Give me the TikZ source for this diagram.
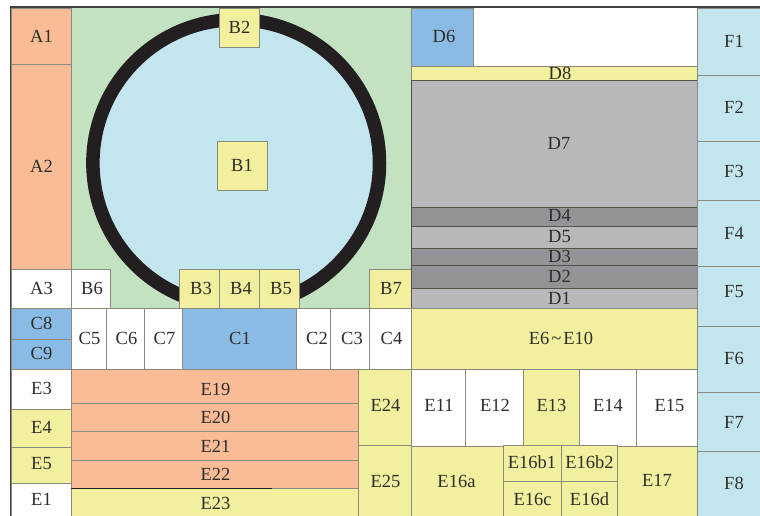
\documentclass[tikz,border=0pt]{standalone}
\usepackage{fontspec}
\setmainfont{Liberation Serif}
\definecolor{cOrange}{HTML}{F9BC96}
\definecolor{cGreen}{HTML}{C3E2C1}
\definecolor{cSky}{HTML}{C3E5EE}
\definecolor{cYellow}{HTML}{F2EF9E}
\definecolor{cBlue}{HTML}{8ABBE4}
\definecolor{cGray}{HTML}{B6B8BA}
\definecolor{cDark}{HTML}{929497}
\definecolor{cRing}{HTML}{231F20}
\definecolor{cLine}{HTML}{8A8B7C}
\definecolor{cText}{HTML}{2E2E2A}
\tikzset{
  boxorange/.style={fill=cOrange,draw=cLine,line width=0.6pt},
  boxsky/.style={fill=cSky,draw=cLine,line width=0.6pt},
  boxyellow/.style={fill=cYellow,draw=cLine,line width=0.6pt},
  boxblue/.style={fill=cBlue,draw=cLine,line width=0.6pt},
  boxwhite/.style={fill=white,draw=cLine,line width=0.6pt},
  boxgray/.style={fill=cGray,draw=cLine!60!black,line width=0.9pt},
  boxdark/.style={fill=cDark,draw=cLine!60!black,line width=0.9pt},
  lab/.style={font=\fontsize{18.5}{18.5}\selectfont,text=cText,inner sep=0pt,anchor=center}
}
% name, style, x1, y1, x2, y2, label x, label y, text
\newcommand{\cellbox}[9]{%
  \path[#2] (#3,#4) rectangle (#5,#6);
  \node[lab] (#1) at (#7,#8) {#9};
}
\begin{document}
\begin{tikzpicture}[x=1pt,y=-1pt]
\useasboundingbox (0,0) rectangle (760,516);
\fill[white] (0,0) rectangle (760,516);
% green field and ring
\fill[cGreen] (71,8) rectangle (411,308);
\draw[fill=cSky,draw=cRing,line width=13.5pt] (236.2,163) circle (143.3);
% left column
\cellbox{A1}{boxorange}{11}{8}{71}{64.5}{41.5}{36}{A1}
\cellbox{A2}{boxorange}{11}{64.5}{71}{269}{41.5}{166}{A2}
\cellbox{A3}{boxwhite}{11}{269}{71}{308}{41.5}{288.5}{A3}
\cellbox{C8}{boxblue}{11}{308}{71}{339}{41.5}{323}{C8}
\cellbox{C9}{boxblue}{11}{339}{71}{369}{41.5}{353}{C9}
\cellbox{E3}{boxwhite}{11}{369}{71}{409}{41.5}{388}{E3}
\cellbox{E4}{boxyellow}{11}{409}{71}{447}{41.5}{427}{E4}
\cellbox{E5}{boxyellow}{11}{447}{71}{483}{41.5}{464}{E5}
\cellbox{E1}{boxwhite}{11}{483}{71}{517}{41.5}{499}{E1}
% B boxes
\cellbox{B2}{boxyellow}{219.5}{8}{259.5}{47}{239.5}{27}{B2}
\cellbox{B1}{boxyellow}{217.5}{141}{267}{190}{242}{165.5}{B1}
\cellbox{B3}{boxyellow}{179.5}{269}{219.5}{308}{201}{288.5}{B3}
\cellbox{B4}{boxyellow}{219.5}{269}{259.5}{308}{241}{288.5}{B4}
\cellbox{B5}{boxyellow}{259.5}{269}{299}{308}{281}{288.5}{B5}
\cellbox{B6}{boxwhite}{71}{269.5}{110.5}{308}{92}{288.5}{B6}
\cellbox{B7}{boxyellow}{369.5}{269}{411}{308}{391}{288.5}{B7}
% C row
\cellbox{C5}{boxwhite}{71}{308}{106}{369}{89.5}{338}{C5}
\cellbox{C6}{boxwhite}{106}{308}{144}{369}{126.5}{338}{C6}
\cellbox{C7}{boxwhite}{144}{308}{182.5}{369}{164.5}{338}{C7}
\cellbox{C1}{boxblue}{182.5}{308}{296.5}{369}{240}{338}{C1}
\cellbox{C2}{boxwhite}{296.5}{308}{330.5}{369}{317}{338}{C2}
\cellbox{C3}{boxwhite}{330.5}{308}{369.5}{369}{352}{338}{C3}
\cellbox{C4}{boxwhite}{369.5}{308}{411}{369}{391.5}{338}{C4}
% E bars
\cellbox{E19}{boxorange}{71}{369}{358}{403}{215.5}{389}{E19}
\cellbox{E20}{boxorange}{71}{403}{358}{431.5}{215.5}{417}{E20}
\cellbox{E21}{boxorange}{71}{431.5}{358}{460}{215.5}{446}{E21}
\cellbox{E22}{boxorange}{71}{460}{358}{488.5}{215.5}{474}{E22}
\cellbox{E23}{boxyellow}{71}{488.5}{358}{517}{215.5}{503}{E23}
\draw[cRing,line width=0.8pt] (71,488.5) -- (272,488.5);
\cellbox{E24}{boxyellow}{358}{369}{411}{445}{385.5}{405}{E24}
\cellbox{E25}{boxyellow}{358}{445}{411}{517}{385.5}{481}{E25}
% D block
\cellbox{D6}{boxblue}{411}{8}{473.5}{66}{444}{36}{D6}
\fill[white] (473.5,8) rectangle (697,66);
\cellbox{D8}{boxyellow}{411}{66.5}{697}{80}{560}{73}{D8}
\cellbox{D7}{boxgray}{411}{80}{697}{207.5}{559}{143}{D7}
\cellbox{D4}{boxdark}{411}{207.5}{697}{226.5}{559.5}{215.5}{D4}
\cellbox{D5}{boxgray}{411}{226.5}{697}{248}{559.5}{237}{D5}
\cellbox{D3}{boxdark}{411}{248}{697}{265.5}{559.5}{256.5}{D3}
\cellbox{D2}{boxdark}{411}{265.5}{697}{288}{559.5}{276.5}{D2}
\cellbox{D1}{boxgray}{411}{288}{697}{308}{559.5}{298}{D1}
\cellbox{E6}{boxyellow}{411}{308}{697}{369}{561}{338.5}{E6\kern2pt\textasciitilde\kern2pt E10}
% E11 to E15
\cellbox{E11}{boxwhite}{411}{369}{465.5}{446}{439}{405}{E11}
\cellbox{E12}{boxwhite}{465.5}{369}{523.5}{446}{495}{405}{E12}
\cellbox{E13}{boxyellow}{523.5}{369}{579}{446}{551.5}{405}{E13}
\cellbox{E14}{boxwhite}{579}{369}{636}{446}{608}{405}{E14}
\cellbox{E15}{boxwhite}{636}{369}{697}{446}{669.5}{405}{E15}
% E16 group
\cellbox{E16a}{boxyellow}{411}{446}{503.5}{517}{456.5}{481}{E16a}
\cellbox{E17}{boxyellow}{617.5}{446}{697}{517}{657}{480}{E17}
\cellbox{E16b1}{boxyellow}{503.5}{445}{561.5}{481.5}{532}{462}{E16b1}
\cellbox{E16b2}{boxyellow}{561.5}{445}{617.5}{481.5}{589.5}{462}{E16b2}
\cellbox{E16c}{boxyellow}{503.5}{481.5}{561.5}{517}{532.5}{499}{E16c}
\cellbox{E16d}{boxyellow}{561.5}{481.5}{617.5}{517}{589.5}{499}{E16d}
% F column
\cellbox{F1}{boxsky}{697}{8}{761}{75}{734}{41}{F1}
\cellbox{F2}{boxsky}{697}{75}{761}{141.5}{734}{107}{F2}
\cellbox{F3}{boxsky}{697}{141.5}{761}{200.5}{734}{171}{F3}
\cellbox{F4}{boxsky}{697}{200.5}{761}{266.5}{734}{233}{F4}
\cellbox{F5}{boxsky}{697}{266.5}{761}{326.5}{734}{292}{F5}
\cellbox{F6}{boxsky}{697}{326.5}{761}{392}{734}{358}{F6}
\cellbox{F7}{boxsky}{697}{392}{761}{451.5}{734}{422}{F7}
\cellbox{F8}{boxsky}{697}{451.5}{761}{517}{734}{483}{F8}
% outer frame
\draw[cRing!85,line width=1.6pt] (10.3,517) -- (10.3,7.3) -- (760,7.3);
\end{tikzpicture}
\end{document}
